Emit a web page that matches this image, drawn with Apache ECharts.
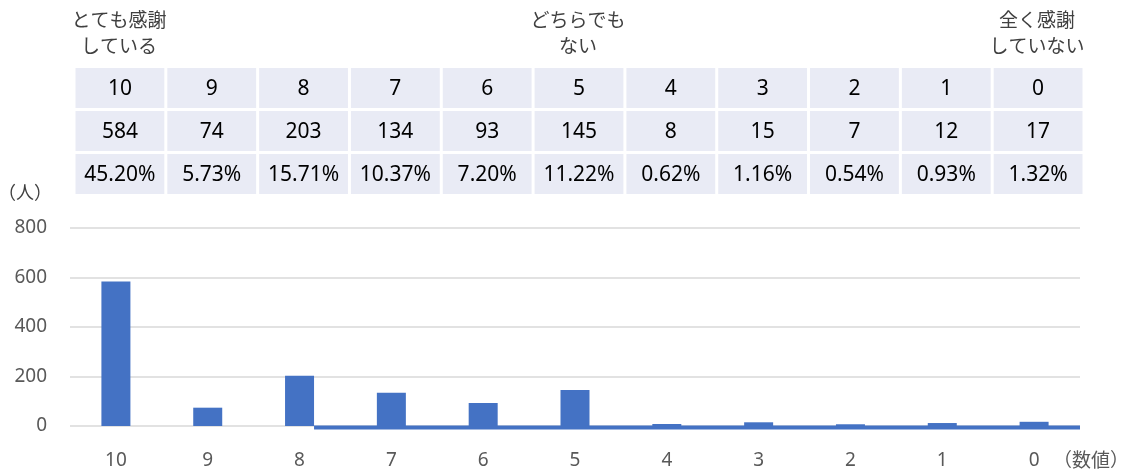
<!DOCTYPE html>
<html>
<head>
<meta charset="utf-8">
<script src="https://cdn.jsdelivr.net/npm/echarts@6/dist/echarts.min.js"></script>
<style>
  html, body { margin: 0; padding: 0; background: #fff; }
  #chart { width: 1131px; height: 475px; }
</style>
</head>
<body>
<div id="chart"></div>
<script>
// Scores from 10 (very grateful) down to 0 (not grateful at all)
const categories = ['10', '9', '8', '7', '6', '5', '4', '3', '2', '1', '0'];
// Number of respondents per score
const counts = [584, 74, 203, 134, 93, 145, 8, 15, 7, 12, 17];
// Share of respondents per score
const shares = ['45.20%', '5.73%', '15.71%', '10.37%', '7.20%', '11.22%', '0.62%', '1.16%', '0.54%', '0.93%', '1.32%'];
// Scale notes shown above the table
const noteCategories = ['10', '5', '0'];
const noteTexts = ['とても感謝\nしている', 'どちらでも\nない', '全く感謝\nしていない'];
// Value axis ticks
const yMin = 0, yMax = 800, yStep = 200;
// Category where the baseline strip begins
const stripStart = ['8'];

const BAR_COLOR = '#4472c4';
const CELL_COLOR = '#e9ebf5';
const NUM_FONT = '"Noto Sans", "Noto Sans CJK JP", sans-serif';
const JP_FONT = '"Noto Sans CJK JP", "Noto Sans", sans-serif';
const BAR_WIDTH = 29;

const chart = echarts.init(document.getElementById('chart'), null, { renderer: 'canvas' });

chart.setOption({
  animation: false,
  backgroundColor: '#ffffff',
  grid: { left: 70, right: 51, top: 228, bottom: 49, containLabel: false, outerBoundsMode: 'none' },
  xAxis: {
    type: 'category',
    data: categories,
    axisLine: { show: false },
    axisTick: { show: false },
    axisLabel: { color: '#595959', fontSize: 19, fontFamily: NUM_FONT, margin: 25 },
    name: '（数値）',
    nameLocation: 'end',
    nameGap: -27,
    nameTextStyle: { color: '#595959', fontSize: 19, fontFamily: JP_FONT, verticalAlign: 'top', padding: [24, 0, 0, 0] }
  },
  yAxis: {
    type: 'value',
    min: yMin,
    max: yMax,
    interval: yStep,
    axisLine: { show: false },
    axisTick: { show: false },
    axisLabel: { color: '#595959', fontSize: 19, fontFamily: NUM_FONT, margin: 23 },
    splitLine: { lineStyle: { color: '#d9d9d9', width: 1.5 } },
    name: '（人）',
    nameLocation: 'end',
    nameGap: 27,
    nameTextStyle: { color: '#404040', fontSize: 18, fontFamily: JP_FONT, align: 'right', padding: [0, 18, 0, 0] }
  },
  series: [
    {
      name: '人数',
      type: 'bar',
      data: counts,
      barWidth: BAR_WIDTH,
      itemStyle: { color: BAR_COLOR },
      z: 3
    },
    {
      // thin strip along the zero line to the right of the "8" bar
      type: 'custom',
      data: stripStart.map(c => [c, 0]),
      z: 2,
      silent: true,
      renderItem: function (params, api) {
        const p = api.coord([api.value(0), 0]);
        const cs = params.coordSys;
        const x0 = p[0] + BAR_WIDTH / 2;
        return {
          type: 'rect',
          shape: { x: x0, y: p[1] - 0.5, width: cs.x + cs.width - x0, height: 4 },
          style: { fill: BAR_COLOR }
        };
      }
    }
  ]
});

// Table above the plot plus the scale notes, aligned with the category axis
function buildOverlay() {
  const centers = categories.map(c => chart.convertToPixel({ xAxisIndex: 0 }, c));
  const pitch = centers[1] - centers[0];
  const cellW = pitch - 3;
  const rowTop = 68, rowH = 40, rowPitch = 43;
  const rows = [categories, counts.map(String), shares];
  const elements = [];
  rows.forEach((row, r) => {
    row.forEach((txt, i) => {
      const cx = centers[i] + 4;
      elements.push({
        type: 'rect',
        shape: { x: cx - cellW / 2, y: rowTop + r * rowPitch, width: cellW, height: rowH },
        style: { fill: CELL_COLOR },
        z: 1
      });
      elements.push({
        type: 'text',
        x: cx,
        y: rowTop + r * rowPitch + rowH / 2 + 1,
        style: {
          text: txt, fill: '#000000', fontSize: 21, fontFamily: NUM_FONT,
          align: 'center', verticalAlign: 'middle'
        },
        z: 2
      });
    });
  });
  noteCategories.forEach((c, k) => {
    const cx = centers[categories.indexOf(c)] + 3;
    elements.push({
      type: 'text',
      x: cx,
      y: 7,
      style: {
        text: noteTexts[k], fill: '#404040', fontSize: 19, lineHeight: 26,
        fontFamily: JP_FONT, align: 'center', verticalAlign: 'top'
      },
      z: 2
    });
  });
  chart.setOption({ graphic: { elements: elements } });
}
buildOverlay();
</script>
</body>
</html>
